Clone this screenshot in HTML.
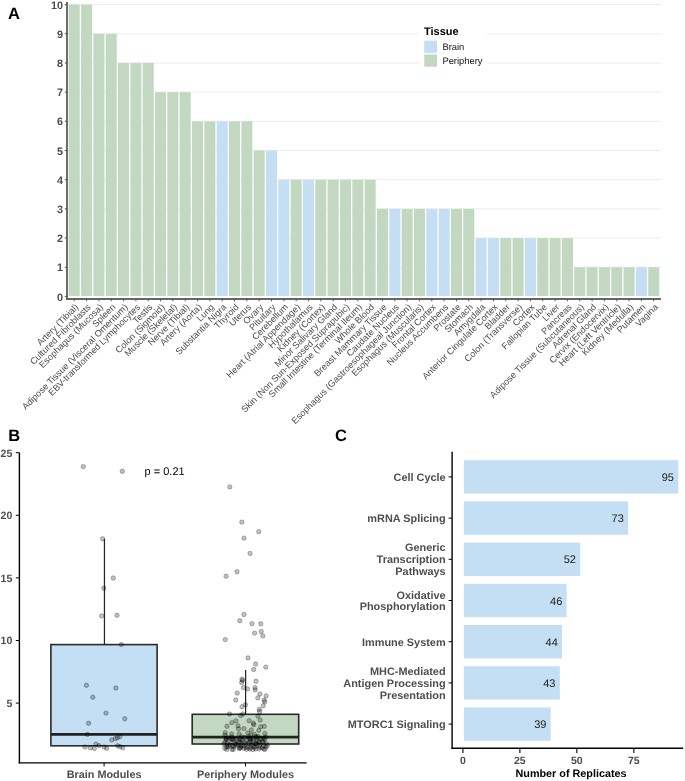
<!DOCTYPE html>
<html><head><meta charset="utf-8"><style>
html,body{margin:0;padding:0;background:#fff;}
body{width:685px;height:781px;overflow:hidden;}
svg{display:block;font-family:"Liberation Sans", sans-serif;will-change:transform;text-rendering:geometricPrecision;}
</style></head><body>
<svg width="685" height="781" viewBox="0 0 685 781">
<rect width="685" height="781" fill="#fff"/>
<line x1="67" x2="661" y1="267.22" y2="267.22" stroke="#ececec" stroke-width="1"/>
<line x1="67" x2="661" y1="238.04" y2="238.04" stroke="#ececec" stroke-width="1"/>
<line x1="67" x2="661" y1="208.86" y2="208.86" stroke="#ececec" stroke-width="1"/>
<line x1="67" x2="661" y1="179.68" y2="179.68" stroke="#ececec" stroke-width="1"/>
<line x1="67" x2="661" y1="150.50" y2="150.50" stroke="#ececec" stroke-width="1"/>
<line x1="67" x2="661" y1="121.32" y2="121.32" stroke="#ececec" stroke-width="1"/>
<line x1="67" x2="661" y1="92.14" y2="92.14" stroke="#ececec" stroke-width="1"/>
<line x1="67" x2="661" y1="62.96" y2="62.96" stroke="#ececec" stroke-width="1"/>
<line x1="67" x2="661" y1="33.78" y2="33.78" stroke="#ececec" stroke-width="1"/>
<line x1="67" x2="661" y1="4.60" y2="4.60" stroke="#ececec" stroke-width="1"/>
<rect x="419" y="22" width="68" height="48" fill="#fff"/>
<rect x="68.70" y="4.60" width="11.05" height="291.40" fill="#c3d8c1"/>
<rect x="81.03" y="4.60" width="11.05" height="291.40" fill="#c3d8c1"/>
<rect x="93.36" y="33.78" width="11.05" height="262.22" fill="#c3d8c1"/>
<rect x="105.69" y="33.78" width="11.05" height="262.22" fill="#c3d8c1"/>
<rect x="118.02" y="62.96" width="11.05" height="233.04" fill="#c3d8c1"/>
<rect x="130.35" y="62.96" width="11.05" height="233.04" fill="#c3d8c1"/>
<rect x="142.68" y="62.96" width="11.05" height="233.04" fill="#c3d8c1"/>
<rect x="155.01" y="92.14" width="11.05" height="203.86" fill="#c3d8c1"/>
<rect x="167.34" y="92.14" width="11.05" height="203.86" fill="#c3d8c1"/>
<rect x="179.67" y="92.14" width="11.05" height="203.86" fill="#c3d8c1"/>
<rect x="192.00" y="121.32" width="11.05" height="174.68" fill="#c3d8c1"/>
<rect x="204.33" y="121.32" width="11.05" height="174.68" fill="#c3d8c1"/>
<rect x="216.66" y="121.32" width="11.05" height="174.68" fill="#c4dff4"/>
<rect x="228.99" y="121.32" width="11.05" height="174.68" fill="#c3d8c1"/>
<rect x="241.32" y="121.32" width="11.05" height="174.68" fill="#c3d8c1"/>
<rect x="253.65" y="150.50" width="11.05" height="145.50" fill="#c3d8c1"/>
<rect x="265.98" y="150.50" width="11.05" height="145.50" fill="#c4dff4"/>
<rect x="278.31" y="179.68" width="11.05" height="116.32" fill="#c4dff4"/>
<rect x="290.64" y="179.68" width="11.05" height="116.32" fill="#c3d8c1"/>
<rect x="302.97" y="179.68" width="11.05" height="116.32" fill="#c4dff4"/>
<rect x="315.30" y="179.68" width="11.05" height="116.32" fill="#c3d8c1"/>
<rect x="327.63" y="179.68" width="11.05" height="116.32" fill="#c3d8c1"/>
<rect x="339.96" y="179.68" width="11.05" height="116.32" fill="#c3d8c1"/>
<rect x="352.29" y="179.68" width="11.05" height="116.32" fill="#c3d8c1"/>
<rect x="364.62" y="179.68" width="11.05" height="116.32" fill="#c3d8c1"/>
<rect x="376.95" y="208.86" width="11.05" height="87.14" fill="#c3d8c1"/>
<rect x="389.28" y="208.86" width="11.05" height="87.14" fill="#c4dff4"/>
<rect x="401.61" y="208.86" width="11.05" height="87.14" fill="#c3d8c1"/>
<rect x="413.94" y="208.86" width="11.05" height="87.14" fill="#c3d8c1"/>
<rect x="426.27" y="208.86" width="11.05" height="87.14" fill="#c4dff4"/>
<rect x="438.60" y="208.86" width="11.05" height="87.14" fill="#c4dff4"/>
<rect x="450.93" y="208.86" width="11.05" height="87.14" fill="#c3d8c1"/>
<rect x="463.26" y="208.86" width="11.05" height="87.14" fill="#c3d8c1"/>
<rect x="475.59" y="238.04" width="11.05" height="57.96" fill="#c4dff4"/>
<rect x="487.92" y="238.04" width="11.05" height="57.96" fill="#c4dff4"/>
<rect x="500.25" y="238.04" width="11.05" height="57.96" fill="#c3d8c1"/>
<rect x="512.58" y="238.04" width="11.05" height="57.96" fill="#c3d8c1"/>
<rect x="524.91" y="238.04" width="11.05" height="57.96" fill="#c4dff4"/>
<rect x="537.24" y="238.04" width="11.05" height="57.96" fill="#c3d8c1"/>
<rect x="549.57" y="238.04" width="11.05" height="57.96" fill="#c3d8c1"/>
<rect x="561.90" y="238.04" width="11.05" height="57.96" fill="#c3d8c1"/>
<rect x="574.23" y="267.22" width="11.05" height="28.78" fill="#c3d8c1"/>
<rect x="586.56" y="267.22" width="11.05" height="28.78" fill="#c3d8c1"/>
<rect x="598.89" y="267.22" width="11.05" height="28.78" fill="#c3d8c1"/>
<rect x="611.22" y="267.22" width="11.05" height="28.78" fill="#c3d8c1"/>
<rect x="623.55" y="267.22" width="11.05" height="28.78" fill="#c3d8c1"/>
<rect x="635.88" y="267.22" width="11.05" height="28.78" fill="#c4dff4"/>
<rect x="648.21" y="267.22" width="11.05" height="28.78" fill="#c3d8c1"/>
<line x1="67" x2="67" y1="2" y2="299.9" stroke="#666" stroke-width="1.9"/>
<line x1="66.05" x2="661" y1="298.95" y2="298.95" stroke="#666" stroke-width="1.9"/>
<line x1="64.8" x2="67" y1="296.40" y2="296.40" stroke="#444" stroke-width="0.9"/>
<text x="63" y="300.55" text-anchor="end" font-size="10.8" font-weight="bold" fill="#4d4d4d">0</text>
<line x1="64.8" x2="67" y1="267.22" y2="267.22" stroke="#444" stroke-width="0.9"/>
<text x="63" y="271.37" text-anchor="end" font-size="10.8" font-weight="bold" fill="#4d4d4d">1</text>
<line x1="64.8" x2="67" y1="238.04" y2="238.04" stroke="#444" stroke-width="0.9"/>
<text x="63" y="242.19" text-anchor="end" font-size="10.8" font-weight="bold" fill="#4d4d4d">2</text>
<line x1="64.8" x2="67" y1="208.86" y2="208.86" stroke="#444" stroke-width="0.9"/>
<text x="63" y="213.01" text-anchor="end" font-size="10.8" font-weight="bold" fill="#4d4d4d">3</text>
<line x1="64.8" x2="67" y1="179.68" y2="179.68" stroke="#444" stroke-width="0.9"/>
<text x="63" y="183.83" text-anchor="end" font-size="10.8" font-weight="bold" fill="#4d4d4d">4</text>
<line x1="64.8" x2="67" y1="150.50" y2="150.50" stroke="#444" stroke-width="0.9"/>
<text x="63" y="154.65" text-anchor="end" font-size="10.8" font-weight="bold" fill="#4d4d4d">5</text>
<line x1="64.8" x2="67" y1="121.32" y2="121.32" stroke="#444" stroke-width="0.9"/>
<text x="63" y="125.47" text-anchor="end" font-size="10.8" font-weight="bold" fill="#4d4d4d">6</text>
<line x1="64.8" x2="67" y1="92.14" y2="92.14" stroke="#444" stroke-width="0.9"/>
<text x="63" y="96.29" text-anchor="end" font-size="10.8" font-weight="bold" fill="#4d4d4d">7</text>
<line x1="64.8" x2="67" y1="62.96" y2="62.96" stroke="#444" stroke-width="0.9"/>
<text x="63" y="67.11" text-anchor="end" font-size="10.8" font-weight="bold" fill="#4d4d4d">8</text>
<line x1="64.8" x2="67" y1="33.78" y2="33.78" stroke="#444" stroke-width="0.9"/>
<text x="63" y="37.93" text-anchor="end" font-size="10.8" font-weight="bold" fill="#4d4d4d">9</text>
<line x1="64.8" x2="67" y1="4.60" y2="4.60" stroke="#444" stroke-width="0.9"/>
<text x="63" y="8.75" text-anchor="end" font-size="10.8" font-weight="bold" fill="#4d4d4d">10</text>
<line x1="74.23" x2="74.23" y1="299.5" y2="301.3" stroke="#444" stroke-width="0.9"/>
<text transform="translate(74.33,303.00) rotate(-45)" x="0" y="0" dy="6.6" text-anchor="end" font-size="9.12" fill="#4d4d4d">Artery (Tibial)</text>
<line x1="86.56" x2="86.56" y1="299.5" y2="301.3" stroke="#444" stroke-width="0.9"/>
<text transform="translate(86.66,303.00) rotate(-45)" x="0" y="0" dy="6.6" text-anchor="end" font-size="9.12" fill="#4d4d4d">Cultured Fibroblasts</text>
<line x1="98.89" x2="98.89" y1="299.5" y2="301.3" stroke="#444" stroke-width="0.9"/>
<text transform="translate(98.98,303.00) rotate(-45)" x="0" y="0" dy="6.6" text-anchor="end" font-size="9.12" fill="#4d4d4d">Esophagus (Mucosa)</text>
<line x1="111.22" x2="111.22" y1="299.5" y2="301.3" stroke="#444" stroke-width="0.9"/>
<text transform="translate(111.31,303.00) rotate(-45)" x="0" y="0" dy="6.6" text-anchor="end" font-size="9.12" fill="#4d4d4d">Spleen</text>
<line x1="123.55" x2="123.55" y1="299.5" y2="301.3" stroke="#444" stroke-width="0.9"/>
<text transform="translate(123.65,303.00) rotate(-45)" x="0" y="0" dy="6.6" text-anchor="end" font-size="9.12" fill="#4d4d4d">Adipose Tissue (Visceral Omentum)</text>
<line x1="135.88" x2="135.88" y1="299.5" y2="301.3" stroke="#444" stroke-width="0.9"/>
<text transform="translate(135.97,303.00) rotate(-45)" x="0" y="0" dy="6.6" text-anchor="end" font-size="9.12" fill="#4d4d4d">EBV-transformed Lymphocytes</text>
<line x1="148.21" x2="148.21" y1="299.5" y2="301.3" stroke="#444" stroke-width="0.9"/>
<text transform="translate(148.31,303.00) rotate(-45)" x="0" y="0" dy="6.6" text-anchor="end" font-size="9.12" fill="#4d4d4d">Testis</text>
<line x1="160.53" x2="160.53" y1="299.5" y2="301.3" stroke="#444" stroke-width="0.9"/>
<text transform="translate(160.63,303.00) rotate(-45)" x="0" y="0" dy="6.6" text-anchor="end" font-size="9.12" fill="#4d4d4d">Colon (Sigmoid)</text>
<line x1="172.87" x2="172.87" y1="299.5" y2="301.3" stroke="#444" stroke-width="0.9"/>
<text transform="translate(172.97,303.00) rotate(-45)" x="0" y="0" dy="6.6" text-anchor="end" font-size="9.12" fill="#4d4d4d">Muscle (Skeletal)</text>
<line x1="185.20" x2="185.20" y1="299.5" y2="301.3" stroke="#444" stroke-width="0.9"/>
<text transform="translate(185.30,303.00) rotate(-45)" x="0" y="0" dy="6.6" text-anchor="end" font-size="9.12" fill="#4d4d4d">Nerve (Tibial)</text>
<line x1="197.53" x2="197.53" y1="299.5" y2="301.3" stroke="#444" stroke-width="0.9"/>
<text transform="translate(197.62,303.00) rotate(-45)" x="0" y="0" dy="6.6" text-anchor="end" font-size="9.12" fill="#4d4d4d">Artery (Aorta)</text>
<line x1="209.85" x2="209.85" y1="299.5" y2="301.3" stroke="#444" stroke-width="0.9"/>
<text transform="translate(209.95,303.00) rotate(-45)" x="0" y="0" dy="6.6" text-anchor="end" font-size="9.12" fill="#4d4d4d">Lung</text>
<line x1="222.19" x2="222.19" y1="299.5" y2="301.3" stroke="#444" stroke-width="0.9"/>
<text transform="translate(222.29,303.00) rotate(-45)" x="0" y="0" dy="6.6" text-anchor="end" font-size="9.12" fill="#4d4d4d">Substantia Nigra</text>
<line x1="234.52" x2="234.52" y1="299.5" y2="301.3" stroke="#444" stroke-width="0.9"/>
<text transform="translate(234.62,303.00) rotate(-45)" x="0" y="0" dy="6.6" text-anchor="end" font-size="9.12" fill="#4d4d4d">Thyroid</text>
<line x1="246.84" x2="246.84" y1="299.5" y2="301.3" stroke="#444" stroke-width="0.9"/>
<text transform="translate(246.94,303.00) rotate(-45)" x="0" y="0" dy="6.6" text-anchor="end" font-size="9.12" fill="#4d4d4d">Uterus</text>
<line x1="259.17" x2="259.17" y1="299.5" y2="301.3" stroke="#444" stroke-width="0.9"/>
<text transform="translate(259.27,303.00) rotate(-45)" x="0" y="0" dy="6.6" text-anchor="end" font-size="9.12" fill="#4d4d4d">Ovary</text>
<line x1="271.50" x2="271.50" y1="299.5" y2="301.3" stroke="#444" stroke-width="0.9"/>
<text transform="translate(271.61,303.00) rotate(-45)" x="0" y="0" dy="6.6" text-anchor="end" font-size="9.12" fill="#4d4d4d">Pituitary</text>
<line x1="283.83" x2="283.83" y1="299.5" y2="301.3" stroke="#444" stroke-width="0.9"/>
<text transform="translate(283.94,303.00) rotate(-45)" x="0" y="0" dy="6.6" text-anchor="end" font-size="9.12" fill="#4d4d4d">Cerebellum</text>
<line x1="296.16" x2="296.16" y1="299.5" y2="301.3" stroke="#444" stroke-width="0.9"/>
<text transform="translate(296.26,303.00) rotate(-45)" x="0" y="0" dy="6.6" text-anchor="end" font-size="9.12" fill="#4d4d4d">Heart (Atrial Appendage)</text>
<line x1="308.50" x2="308.50" y1="299.5" y2="301.3" stroke="#444" stroke-width="0.9"/>
<text transform="translate(308.60,303.00) rotate(-45)" x="0" y="0" dy="6.6" text-anchor="end" font-size="9.12" fill="#4d4d4d">Hypothalamus</text>
<line x1="320.82" x2="320.82" y1="299.5" y2="301.3" stroke="#444" stroke-width="0.9"/>
<text transform="translate(320.93,303.00) rotate(-45)" x="0" y="0" dy="6.6" text-anchor="end" font-size="9.12" fill="#4d4d4d">Kidney (Cortex)</text>
<line x1="333.15" x2="333.15" y1="299.5" y2="301.3" stroke="#444" stroke-width="0.9"/>
<text transform="translate(333.25,303.00) rotate(-45)" x="0" y="0" dy="6.6" text-anchor="end" font-size="9.12" fill="#4d4d4d">Minor Salivary Gland</text>
<line x1="345.48" x2="345.48" y1="299.5" y2="301.3" stroke="#444" stroke-width="0.9"/>
<text transform="translate(345.58,303.00) rotate(-45)" x="0" y="0" dy="6.6" text-anchor="end" font-size="9.12" fill="#4d4d4d">Skin (Non Sun-Exposed Suprapubic)</text>
<line x1="357.81" x2="357.81" y1="299.5" y2="301.3" stroke="#444" stroke-width="0.9"/>
<text transform="translate(357.91,303.00) rotate(-45)" x="0" y="0" dy="6.6" text-anchor="end" font-size="9.12" fill="#4d4d4d">Small Intestine (Terminal Ileum)</text>
<line x1="370.14" x2="370.14" y1="299.5" y2="301.3" stroke="#444" stroke-width="0.9"/>
<text transform="translate(370.25,303.00) rotate(-45)" x="0" y="0" dy="6.6" text-anchor="end" font-size="9.12" fill="#4d4d4d">Whole Blood</text>
<line x1="382.47" x2="382.47" y1="299.5" y2="301.3" stroke="#444" stroke-width="0.9"/>
<text transform="translate(382.57,303.00) rotate(-45)" x="0" y="0" dy="6.6" text-anchor="end" font-size="9.12" fill="#4d4d4d">Breast Mammary Tissue</text>
<line x1="394.80" x2="394.80" y1="299.5" y2="301.3" stroke="#444" stroke-width="0.9"/>
<text transform="translate(394.90,303.00) rotate(-45)" x="0" y="0" dy="6.6" text-anchor="end" font-size="9.12" fill="#4d4d4d">Caudate Nucleus</text>
<line x1="407.13" x2="407.13" y1="299.5" y2="301.3" stroke="#444" stroke-width="0.9"/>
<text transform="translate(407.24,303.00) rotate(-45)" x="0" y="0" dy="6.6" text-anchor="end" font-size="9.12" fill="#4d4d4d">Esophagus (Gastroesophageal Junction)</text>
<line x1="419.46" x2="419.46" y1="299.5" y2="301.3" stroke="#444" stroke-width="0.9"/>
<text transform="translate(419.56,303.00) rotate(-45)" x="0" y="0" dy="6.6" text-anchor="end" font-size="9.12" fill="#4d4d4d">Esophagus (Muscularis)</text>
<line x1="431.79" x2="431.79" y1="299.5" y2="301.3" stroke="#444" stroke-width="0.9"/>
<text transform="translate(431.89,303.00) rotate(-45)" x="0" y="0" dy="6.6" text-anchor="end" font-size="9.12" fill="#4d4d4d">Frontal Cortex</text>
<line x1="444.12" x2="444.12" y1="299.5" y2="301.3" stroke="#444" stroke-width="0.9"/>
<text transform="translate(444.22,303.00) rotate(-45)" x="0" y="0" dy="6.6" text-anchor="end" font-size="9.12" fill="#4d4d4d">Nucleus Accumbens</text>
<line x1="456.45" x2="456.45" y1="299.5" y2="301.3" stroke="#444" stroke-width="0.9"/>
<text transform="translate(456.56,303.00) rotate(-45)" x="0" y="0" dy="6.6" text-anchor="end" font-size="9.12" fill="#4d4d4d">Prostate</text>
<line x1="468.78" x2="468.78" y1="299.5" y2="301.3" stroke="#444" stroke-width="0.9"/>
<text transform="translate(468.88,303.00) rotate(-45)" x="0" y="0" dy="6.6" text-anchor="end" font-size="9.12" fill="#4d4d4d">Stomach</text>
<line x1="481.11" x2="481.11" y1="299.5" y2="301.3" stroke="#444" stroke-width="0.9"/>
<text transform="translate(481.21,303.00) rotate(-45)" x="0" y="0" dy="6.6" text-anchor="end" font-size="9.12" fill="#4d4d4d">Amygdala</text>
<line x1="493.44" x2="493.44" y1="299.5" y2="301.3" stroke="#444" stroke-width="0.9"/>
<text transform="translate(493.55,303.00) rotate(-45)" x="0" y="0" dy="6.6" text-anchor="end" font-size="9.12" fill="#4d4d4d">Anterior Cingulate Cortex</text>
<line x1="505.77" x2="505.77" y1="299.5" y2="301.3" stroke="#444" stroke-width="0.9"/>
<text transform="translate(505.88,303.00) rotate(-45)" x="0" y="0" dy="6.6" text-anchor="end" font-size="9.12" fill="#4d4d4d">Bladder</text>
<line x1="518.11" x2="518.11" y1="299.5" y2="301.3" stroke="#444" stroke-width="0.9"/>
<text transform="translate(518.21,303.00) rotate(-45)" x="0" y="0" dy="6.6" text-anchor="end" font-size="9.12" fill="#4d4d4d">Colon (Transverse)</text>
<line x1="530.43" x2="530.43" y1="299.5" y2="301.3" stroke="#444" stroke-width="0.9"/>
<text transform="translate(530.53,303.00) rotate(-45)" x="0" y="0" dy="6.6" text-anchor="end" font-size="9.12" fill="#4d4d4d">Cortex</text>
<line x1="542.76" x2="542.76" y1="299.5" y2="301.3" stroke="#444" stroke-width="0.9"/>
<text transform="translate(542.87,303.00) rotate(-45)" x="0" y="0" dy="6.6" text-anchor="end" font-size="9.12" fill="#4d4d4d">Fallopian Tube</text>
<line x1="555.10" x2="555.10" y1="299.5" y2="301.3" stroke="#444" stroke-width="0.9"/>
<text transform="translate(555.20,303.00) rotate(-45)" x="0" y="0" dy="6.6" text-anchor="end" font-size="9.12" fill="#4d4d4d">Liver</text>
<line x1="567.42" x2="567.42" y1="299.5" y2="301.3" stroke="#444" stroke-width="0.9"/>
<text transform="translate(567.52,303.00) rotate(-45)" x="0" y="0" dy="6.6" text-anchor="end" font-size="9.12" fill="#4d4d4d">Pancreas</text>
<line x1="579.75" x2="579.75" y1="299.5" y2="301.3" stroke="#444" stroke-width="0.9"/>
<text transform="translate(579.86,303.00) rotate(-45)" x="0" y="0" dy="6.6" text-anchor="end" font-size="9.12" fill="#4d4d4d">Adipose Tissue (Subcutaneous)</text>
<line x1="592.09" x2="592.09" y1="299.5" y2="301.3" stroke="#444" stroke-width="0.9"/>
<text transform="translate(592.19,303.00) rotate(-45)" x="0" y="0" dy="6.6" text-anchor="end" font-size="9.12" fill="#4d4d4d">Adrenal Gland</text>
<line x1="604.42" x2="604.42" y1="299.5" y2="301.3" stroke="#444" stroke-width="0.9"/>
<text transform="translate(604.52,303.00) rotate(-45)" x="0" y="0" dy="6.6" text-anchor="end" font-size="9.12" fill="#4d4d4d">Cervix (Endocervix)</text>
<line x1="616.75" x2="616.75" y1="299.5" y2="301.3" stroke="#444" stroke-width="0.9"/>
<text transform="translate(616.85,303.00) rotate(-45)" x="0" y="0" dy="6.6" text-anchor="end" font-size="9.12" fill="#4d4d4d">Heart (Left Ventricle)</text>
<line x1="629.08" x2="629.08" y1="299.5" y2="301.3" stroke="#444" stroke-width="0.9"/>
<text transform="translate(629.18,303.00) rotate(-45)" x="0" y="0" dy="6.6" text-anchor="end" font-size="9.12" fill="#4d4d4d">Kidney (Medulla)</text>
<line x1="641.40" x2="641.40" y1="299.5" y2="301.3" stroke="#444" stroke-width="0.9"/>
<text transform="translate(641.50,303.00) rotate(-45)" x="0" y="0" dy="6.6" text-anchor="end" font-size="9.12" fill="#4d4d4d">Putamen</text>
<line x1="653.74" x2="653.74" y1="299.5" y2="301.3" stroke="#444" stroke-width="0.9"/>
<text transform="translate(653.84,303.00) rotate(-45)" x="0" y="0" dy="6.6" text-anchor="end" font-size="9.12" fill="#4d4d4d">Vagina</text>
<text x="424" y="34.8" font-size="11" font-weight="bold" fill="#000">Tissue</text>
<rect x="424.2" y="40.7" width="12.9" height="12.2" fill="#c4dff4"/>
<rect x="424.2" y="54.5" width="12.9" height="12.2" fill="#c3d8c1"/>
<text x="442.4" y="50.4" font-size="9.4" fill="#111">Brain</text>
<text x="442.4" y="64.4" font-size="9.4" fill="#111">Periphery</text>
<text x="8" y="18.7" font-size="16.5" font-weight="bold" fill="#000">A</text>
<text x="8.3" y="441" font-size="16.5" font-weight="bold" fill="#000">B</text>
<line x1="104.45" x2="104.45" y1="538.90" y2="644.60" stroke="#262626" stroke-width="1.25"/>
<rect x="50.90" y="644.60" width="106.20" height="101.20" fill="#c4dff4" stroke="#2a2a2a" stroke-width="1.6"/>
<line x1="50.90" x2="157.10" y1="734.40" y2="734.40" stroke="#222" stroke-width="2.7"/>
<line x1="245.60" x2="245.60" y1="670.00" y2="714.30" stroke="#262626" stroke-width="1.25"/>
<rect x="192.20" y="714.30" width="106.50" height="29.70" fill="#c3d8c1" stroke="#2a2a2a" stroke-width="1.6"/>
<line x1="192.20" x2="298.70" y1="737.20" y2="737.20" stroke="#222" stroke-width="2.7"/>
<circle cx="83.3" cy="466.6" r="2.2" fill="rgba(0,0,0,0.24)" stroke="rgba(0,0,0,0.38)" stroke-width="0.7"/>
<circle cx="122.3" cy="471.3" r="2.2" fill="rgba(0,0,0,0.24)" stroke="rgba(0,0,0,0.38)" stroke-width="0.7"/>
<circle cx="102.6" cy="538.8" r="2.2" fill="rgba(0,0,0,0.24)" stroke="rgba(0,0,0,0.38)" stroke-width="0.7"/>
<circle cx="113.3" cy="578.0" r="2.2" fill="rgba(0,0,0,0.24)" stroke="rgba(0,0,0,0.38)" stroke-width="0.7"/>
<circle cx="103.8" cy="588.2" r="2.2" fill="rgba(0,0,0,0.24)" stroke="rgba(0,0,0,0.38)" stroke-width="0.7"/>
<circle cx="101.6" cy="615.9" r="2.2" fill="rgba(0,0,0,0.24)" stroke="rgba(0,0,0,0.38)" stroke-width="0.7"/>
<circle cx="117.0" cy="615.3" r="2.2" fill="rgba(0,0,0,0.24)" stroke="rgba(0,0,0,0.38)" stroke-width="0.7"/>
<circle cx="121.4" cy="644.5" r="2.2" fill="rgba(0,0,0,0.24)" stroke="rgba(0,0,0,0.38)" stroke-width="0.7"/>
<circle cx="86.4" cy="685.3" r="2.2" fill="rgba(0,0,0,0.24)" stroke="rgba(0,0,0,0.38)" stroke-width="0.7"/>
<circle cx="115.9" cy="688.0" r="2.2" fill="rgba(0,0,0,0.24)" stroke="rgba(0,0,0,0.38)" stroke-width="0.7"/>
<circle cx="92.8" cy="697.2" r="2.2" fill="rgba(0,0,0,0.24)" stroke="rgba(0,0,0,0.38)" stroke-width="0.7"/>
<circle cx="106.0" cy="713.1" r="2.2" fill="rgba(0,0,0,0.24)" stroke="rgba(0,0,0,0.38)" stroke-width="0.7"/>
<circle cx="124.8" cy="718.8" r="2.2" fill="rgba(0,0,0,0.24)" stroke="rgba(0,0,0,0.38)" stroke-width="0.7"/>
<circle cx="88.6" cy="723.2" r="2.2" fill="rgba(0,0,0,0.24)" stroke="rgba(0,0,0,0.38)" stroke-width="0.7"/>
<circle cx="87.3" cy="734.4" r="2.2" fill="rgba(0,0,0,0.24)" stroke="rgba(0,0,0,0.38)" stroke-width="0.7"/>
<circle cx="111.7" cy="739.9" r="2.2" fill="rgba(0,0,0,0.24)" stroke="rgba(0,0,0,0.38)" stroke-width="0.7"/>
<circle cx="115.4" cy="738.6" r="2.2" fill="rgba(0,0,0,0.24)" stroke="rgba(0,0,0,0.38)" stroke-width="0.7"/>
<circle cx="117.4" cy="737.6" r="2.2" fill="rgba(0,0,0,0.24)" stroke="rgba(0,0,0,0.38)" stroke-width="0.7"/>
<circle cx="119.9" cy="736.6" r="2.2" fill="rgba(0,0,0,0.24)" stroke="rgba(0,0,0,0.38)" stroke-width="0.7"/>
<circle cx="96.0" cy="744.1" r="2.2" fill="rgba(0,0,0,0.24)" stroke="rgba(0,0,0,0.38)" stroke-width="0.7"/>
<circle cx="99.0" cy="745.6" r="2.2" fill="rgba(0,0,0,0.24)" stroke="rgba(0,0,0,0.38)" stroke-width="0.7"/>
<circle cx="84.9" cy="747.0" r="2.2" fill="rgba(0,0,0,0.24)" stroke="rgba(0,0,0,0.38)" stroke-width="0.7"/>
<circle cx="90.3" cy="747.8" r="2.2" fill="rgba(0,0,0,0.24)" stroke="rgba(0,0,0,0.38)" stroke-width="0.7"/>
<circle cx="94.3" cy="748.5" r="2.2" fill="rgba(0,0,0,0.24)" stroke="rgba(0,0,0,0.38)" stroke-width="0.7"/>
<circle cx="106.7" cy="748.3" r="2.2" fill="rgba(0,0,0,0.24)" stroke="rgba(0,0,0,0.38)" stroke-width="0.7"/>
<circle cx="104.2" cy="747.0" r="2.2" fill="rgba(0,0,0,0.24)" stroke="rgba(0,0,0,0.38)" stroke-width="0.7"/>
<circle cx="117.6" cy="745.8" r="2.2" fill="rgba(0,0,0,0.24)" stroke="rgba(0,0,0,0.38)" stroke-width="0.7"/>
<circle cx="120.1" cy="746.6" r="2.2" fill="rgba(0,0,0,0.24)" stroke="rgba(0,0,0,0.38)" stroke-width="0.7"/>
<circle cx="122.8" cy="747.8" r="2.2" fill="rgba(0,0,0,0.24)" stroke="rgba(0,0,0,0.38)" stroke-width="0.7"/>
<circle cx="229.8" cy="486.9" r="2.2" fill="rgba(0,0,0,0.24)" stroke="rgba(0,0,0,0.38)" stroke-width="0.7"/>
<circle cx="241.8" cy="522.1" r="2.2" fill="rgba(0,0,0,0.24)" stroke="rgba(0,0,0,0.38)" stroke-width="0.7"/>
<circle cx="258.7" cy="531.7" r="2.2" fill="rgba(0,0,0,0.24)" stroke="rgba(0,0,0,0.38)" stroke-width="0.7"/>
<circle cx="244.0" cy="538.1" r="2.2" fill="rgba(0,0,0,0.24)" stroke="rgba(0,0,0,0.38)" stroke-width="0.7"/>
<circle cx="250.1" cy="553.4" r="2.2" fill="rgba(0,0,0,0.24)" stroke="rgba(0,0,0,0.38)" stroke-width="0.7"/>
<circle cx="237.0" cy="571.8" r="2.2" fill="rgba(0,0,0,0.24)" stroke="rgba(0,0,0,0.38)" stroke-width="0.7"/>
<circle cx="226.1" cy="576.2" r="2.2" fill="rgba(0,0,0,0.24)" stroke="rgba(0,0,0,0.38)" stroke-width="0.7"/>
<circle cx="244.0" cy="614.5" r="2.2" fill="rgba(0,0,0,0.24)" stroke="rgba(0,0,0,0.38)" stroke-width="0.7"/>
<circle cx="239.8" cy="620.7" r="2.2" fill="rgba(0,0,0,0.24)" stroke="rgba(0,0,0,0.38)" stroke-width="0.7"/>
<circle cx="251.9" cy="623.6" r="2.2" fill="rgba(0,0,0,0.24)" stroke="rgba(0,0,0,0.38)" stroke-width="0.7"/>
<circle cx="260.8" cy="623.8" r="2.2" fill="rgba(0,0,0,0.24)" stroke="rgba(0,0,0,0.38)" stroke-width="0.7"/>
<circle cx="254.6" cy="633.1" r="2.2" fill="rgba(0,0,0,0.24)" stroke="rgba(0,0,0,0.38)" stroke-width="0.7"/>
<circle cx="261.2" cy="631.5" r="2.2" fill="rgba(0,0,0,0.24)" stroke="rgba(0,0,0,0.38)" stroke-width="0.7"/>
<circle cx="262.8" cy="635.9" r="2.2" fill="rgba(0,0,0,0.24)" stroke="rgba(0,0,0,0.38)" stroke-width="0.7"/>
<circle cx="225.3" cy="639.6" r="2.2" fill="rgba(0,0,0,0.24)" stroke="rgba(0,0,0,0.38)" stroke-width="0.7"/>
<circle cx="248.0" cy="657.9" r="2.2" fill="rgba(0,0,0,0.24)" stroke="rgba(0,0,0,0.38)" stroke-width="0.7"/>
<circle cx="255.6" cy="664.0" r="2.2" fill="rgba(0,0,0,0.24)" stroke="rgba(0,0,0,0.38)" stroke-width="0.7"/>
<circle cx="265.8" cy="667.1" r="2.2" fill="rgba(0,0,0,0.24)" stroke="rgba(0,0,0,0.38)" stroke-width="0.7"/>
<circle cx="253.7" cy="669.5" r="2.2" fill="rgba(0,0,0,0.24)" stroke="rgba(0,0,0,0.38)" stroke-width="0.7"/>
<circle cx="242.0" cy="679.2" r="2.2" fill="rgba(0,0,0,0.24)" stroke="rgba(0,0,0,0.38)" stroke-width="0.7"/>
<circle cx="242.5" cy="680.4" r="2.2" fill="rgba(0,0,0,0.24)" stroke="rgba(0,0,0,0.38)" stroke-width="0.7"/>
<circle cx="241.7" cy="682.5" r="2.2" fill="rgba(0,0,0,0.24)" stroke="rgba(0,0,0,0.38)" stroke-width="0.7"/>
<circle cx="256.0" cy="681.2" r="2.2" fill="rgba(0,0,0,0.24)" stroke="rgba(0,0,0,0.38)" stroke-width="0.7"/>
<circle cx="243.5" cy="687.6" r="2.2" fill="rgba(0,0,0,0.24)" stroke="rgba(0,0,0,0.38)" stroke-width="0.7"/>
<circle cx="247.5" cy="688.9" r="2.2" fill="rgba(0,0,0,0.24)" stroke="rgba(0,0,0,0.38)" stroke-width="0.7"/>
<circle cx="255.0" cy="687.6" r="2.2" fill="rgba(0,0,0,0.24)" stroke="rgba(0,0,0,0.38)" stroke-width="0.7"/>
<circle cx="255.2" cy="689.9" r="2.2" fill="rgba(0,0,0,0.24)" stroke="rgba(0,0,0,0.38)" stroke-width="0.7"/>
<circle cx="237.2" cy="693.1" r="2.2" fill="rgba(0,0,0,0.24)" stroke="rgba(0,0,0,0.38)" stroke-width="0.7"/>
<circle cx="235.7" cy="699.9" r="2.2" fill="rgba(0,0,0,0.24)" stroke="rgba(0,0,0,0.38)" stroke-width="0.7"/>
<circle cx="260.0" cy="693.9" r="2.2" fill="rgba(0,0,0,0.24)" stroke="rgba(0,0,0,0.38)" stroke-width="0.7"/>
<circle cx="266.1" cy="695.9" r="2.2" fill="rgba(0,0,0,0.24)" stroke="rgba(0,0,0,0.38)" stroke-width="0.7"/>
<circle cx="257.8" cy="697.9" r="2.2" fill="rgba(0,0,0,0.24)" stroke="rgba(0,0,0,0.38)" stroke-width="0.7"/>
<circle cx="264.1" cy="700.2" r="2.2" fill="rgba(0,0,0,0.24)" stroke="rgba(0,0,0,0.38)" stroke-width="0.7"/>
<circle cx="264.8" cy="701.8" r="2.2" fill="rgba(0,0,0,0.24)" stroke="rgba(0,0,0,0.38)" stroke-width="0.7"/>
<circle cx="245.4" cy="704.8" r="2.2" fill="rgba(0,0,0,0.24)" stroke="rgba(0,0,0,0.38)" stroke-width="0.7"/>
<circle cx="242.0" cy="706.7" r="2.2" fill="rgba(0,0,0,0.24)" stroke="rgba(0,0,0,0.38)" stroke-width="0.7"/>
<circle cx="263.2" cy="705.8" r="2.2" fill="rgba(0,0,0,0.24)" stroke="rgba(0,0,0,0.38)" stroke-width="0.7"/>
<circle cx="259.2" cy="709.4" r="2.2" fill="rgba(0,0,0,0.24)" stroke="rgba(0,0,0,0.38)" stroke-width="0.7"/>
<circle cx="259.7" cy="711.5" r="2.2" fill="rgba(0,0,0,0.24)" stroke="rgba(0,0,0,0.38)" stroke-width="0.7"/>
<circle cx="229.5" cy="714.0" r="2.2" fill="rgba(0,0,0,0.24)" stroke="rgba(0,0,0,0.38)" stroke-width="0.7"/>
<circle cx="240.8" cy="715.5" r="2.2" fill="rgba(0,0,0,0.24)" stroke="rgba(0,0,0,0.38)" stroke-width="0.7"/>
<circle cx="242.8" cy="714.0" r="2.2" fill="rgba(0,0,0,0.24)" stroke="rgba(0,0,0,0.38)" stroke-width="0.7"/>
<circle cx="257.9" cy="716.1" r="2.2" fill="rgba(0,0,0,0.24)" stroke="rgba(0,0,0,0.38)" stroke-width="0.7"/>
<circle cx="260.2" cy="720.1" r="2.2" fill="rgba(0,0,0,0.24)" stroke="rgba(0,0,0,0.38)" stroke-width="0.7"/>
<circle cx="249.1" cy="720.7" r="2.2" fill="rgba(0,0,0,0.24)" stroke="rgba(0,0,0,0.38)" stroke-width="0.7"/>
<circle cx="236.0" cy="720.9" r="2.2" fill="rgba(0,0,0,0.24)" stroke="rgba(0,0,0,0.38)" stroke-width="0.7"/>
<circle cx="231.8" cy="722.7" r="2.2" fill="rgba(0,0,0,0.24)" stroke="rgba(0,0,0,0.38)" stroke-width="0.7"/>
<circle cx="227.0" cy="726.3" r="2.2" fill="rgba(0,0,0,0.24)" stroke="rgba(0,0,0,0.38)" stroke-width="0.7"/>
<circle cx="238.0" cy="725.8" r="2.2" fill="rgba(0,0,0,0.24)" stroke="rgba(0,0,0,0.38)" stroke-width="0.7"/>
<circle cx="253.3" cy="723.2" r="2.2" fill="rgba(0,0,0,0.24)" stroke="rgba(0,0,0,0.38)" stroke-width="0.7"/>
<circle cx="253.8" cy="724.7" r="2.2" fill="rgba(0,0,0,0.24)" stroke="rgba(0,0,0,0.38)" stroke-width="0.7"/>
<circle cx="264.3" cy="726.3" r="2.2" fill="rgba(0,0,0,0.24)" stroke="rgba(0,0,0,0.38)" stroke-width="0.7"/>
<circle cx="260.7" cy="726.8" r="2.2" fill="rgba(0,0,0,0.24)" stroke="rgba(0,0,0,0.38)" stroke-width="0.7"/>
<circle cx="238.5" cy="728.8" r="2.2" fill="rgba(0,0,0,0.24)" stroke="rgba(0,0,0,0.38)" stroke-width="0.7"/>
<circle cx="243.9" cy="728.6" r="2.2" fill="rgba(0,0,0,0.24)" stroke="rgba(0,0,0,0.38)" stroke-width="0.7"/>
<circle cx="251.3" cy="730.0" r="2.2" fill="rgba(0,0,0,0.24)" stroke="rgba(0,0,0,0.38)" stroke-width="0.7"/>
<circle cx="258.8" cy="730.4" r="2.2" fill="rgba(0,0,0,0.24)" stroke="rgba(0,0,0,0.38)" stroke-width="0.7"/>
<circle cx="231.6" cy="733.9" r="2.2" fill="rgba(0,0,0,0.24)" stroke="rgba(0,0,0,0.38)" stroke-width="0.7"/>
<circle cx="239.1" cy="733.9" r="2.2" fill="rgba(0,0,0,0.24)" stroke="rgba(0,0,0,0.38)" stroke-width="0.7"/>
<circle cx="247.8" cy="733.0" r="2.2" fill="rgba(0,0,0,0.24)" stroke="rgba(0,0,0,0.38)" stroke-width="0.7"/>
<circle cx="254.4" cy="734.3" r="2.2" fill="rgba(0,0,0,0.24)" stroke="rgba(0,0,0,0.38)" stroke-width="0.7"/>
<circle cx="264.9" cy="733.5" r="2.2" fill="rgba(0,0,0,0.24)" stroke="rgba(0,0,0,0.38)" stroke-width="0.7"/>
<circle cx="225.1" cy="735.2" r="2.2" fill="rgba(0,0,0,0.24)" stroke="rgba(0,0,0,0.38)" stroke-width="0.7"/>
<circle cx="250.8" cy="734.9" r="2.2" fill="rgba(0,0,0,0.24)" stroke="rgba(0,0,0,0.38)" stroke-width="0.7"/>
<circle cx="258.2" cy="736.5" r="2.2" fill="rgba(0,0,0,0.24)" stroke="rgba(0,0,0,0.38)" stroke-width="0.7"/>
<circle cx="255.8" cy="736.4" r="2.2" fill="rgba(0,0,0,0.24)" stroke="rgba(0,0,0,0.38)" stroke-width="0.7"/>
<circle cx="225.2" cy="732.7" r="2.2" fill="rgba(0,0,0,0.24)" stroke="rgba(0,0,0,0.38)" stroke-width="0.7"/>
<circle cx="226.3" cy="738.1" r="2.2" fill="rgba(0,0,0,0.24)" stroke="rgba(0,0,0,0.38)" stroke-width="0.7"/>
<circle cx="226.1" cy="739.3" r="2.2" fill="rgba(0,0,0,0.24)" stroke="rgba(0,0,0,0.38)" stroke-width="0.7"/>
<circle cx="224.9" cy="742.1" r="2.2" fill="rgba(0,0,0,0.24)" stroke="rgba(0,0,0,0.38)" stroke-width="0.7"/>
<circle cx="228.0" cy="737.9" r="2.2" fill="rgba(0,0,0,0.24)" stroke="rgba(0,0,0,0.38)" stroke-width="0.7"/>
<circle cx="226.5" cy="739.5" r="2.2" fill="rgba(0,0,0,0.24)" stroke="rgba(0,0,0,0.38)" stroke-width="0.7"/>
<circle cx="227.3" cy="743.8" r="2.2" fill="rgba(0,0,0,0.24)" stroke="rgba(0,0,0,0.38)" stroke-width="0.7"/>
<circle cx="231.6" cy="736.9" r="2.2" fill="rgba(0,0,0,0.24)" stroke="rgba(0,0,0,0.38)" stroke-width="0.7"/>
<circle cx="231.7" cy="739.3" r="2.2" fill="rgba(0,0,0,0.24)" stroke="rgba(0,0,0,0.38)" stroke-width="0.7"/>
<circle cx="231.2" cy="741.8" r="2.2" fill="rgba(0,0,0,0.24)" stroke="rgba(0,0,0,0.38)" stroke-width="0.7"/>
<circle cx="232.3" cy="738.7" r="2.2" fill="rgba(0,0,0,0.24)" stroke="rgba(0,0,0,0.38)" stroke-width="0.7"/>
<circle cx="232.9" cy="739.5" r="2.2" fill="rgba(0,0,0,0.24)" stroke="rgba(0,0,0,0.38)" stroke-width="0.7"/>
<circle cx="235.2" cy="743.7" r="2.2" fill="rgba(0,0,0,0.24)" stroke="rgba(0,0,0,0.38)" stroke-width="0.7"/>
<circle cx="236.1" cy="738.9" r="2.2" fill="rgba(0,0,0,0.24)" stroke="rgba(0,0,0,0.38)" stroke-width="0.7"/>
<circle cx="236.8" cy="740.7" r="2.2" fill="rgba(0,0,0,0.24)" stroke="rgba(0,0,0,0.38)" stroke-width="0.7"/>
<circle cx="235.8" cy="743.9" r="2.2" fill="rgba(0,0,0,0.24)" stroke="rgba(0,0,0,0.38)" stroke-width="0.7"/>
<circle cx="240.2" cy="738.9" r="2.2" fill="rgba(0,0,0,0.24)" stroke="rgba(0,0,0,0.38)" stroke-width="0.7"/>
<circle cx="240.8" cy="739.7" r="2.2" fill="rgba(0,0,0,0.24)" stroke="rgba(0,0,0,0.38)" stroke-width="0.7"/>
<circle cx="239.2" cy="741.9" r="2.2" fill="rgba(0,0,0,0.24)" stroke="rgba(0,0,0,0.38)" stroke-width="0.7"/>
<circle cx="241.5" cy="736.7" r="2.2" fill="rgba(0,0,0,0.24)" stroke="rgba(0,0,0,0.38)" stroke-width="0.7"/>
<circle cx="242.0" cy="740.5" r="2.2" fill="rgba(0,0,0,0.24)" stroke="rgba(0,0,0,0.38)" stroke-width="0.7"/>
<circle cx="241.1" cy="743.2" r="2.2" fill="rgba(0,0,0,0.24)" stroke="rgba(0,0,0,0.38)" stroke-width="0.7"/>
<circle cx="245.0" cy="737.3" r="2.2" fill="rgba(0,0,0,0.24)" stroke="rgba(0,0,0,0.38)" stroke-width="0.7"/>
<circle cx="246.4" cy="740.2" r="2.2" fill="rgba(0,0,0,0.24)" stroke="rgba(0,0,0,0.38)" stroke-width="0.7"/>
<circle cx="245.0" cy="742.7" r="2.2" fill="rgba(0,0,0,0.24)" stroke="rgba(0,0,0,0.38)" stroke-width="0.7"/>
<circle cx="249.0" cy="736.6" r="2.2" fill="rgba(0,0,0,0.24)" stroke="rgba(0,0,0,0.38)" stroke-width="0.7"/>
<circle cx="249.8" cy="739.1" r="2.2" fill="rgba(0,0,0,0.24)" stroke="rgba(0,0,0,0.38)" stroke-width="0.7"/>
<circle cx="249.2" cy="743.6" r="2.2" fill="rgba(0,0,0,0.24)" stroke="rgba(0,0,0,0.38)" stroke-width="0.7"/>
<circle cx="250.0" cy="738.5" r="2.2" fill="rgba(0,0,0,0.24)" stroke="rgba(0,0,0,0.38)" stroke-width="0.7"/>
<circle cx="251.0" cy="740.4" r="2.2" fill="rgba(0,0,0,0.24)" stroke="rgba(0,0,0,0.38)" stroke-width="0.7"/>
<circle cx="249.9" cy="741.6" r="2.2" fill="rgba(0,0,0,0.24)" stroke="rgba(0,0,0,0.38)" stroke-width="0.7"/>
<circle cx="253.4" cy="738.9" r="2.2" fill="rgba(0,0,0,0.24)" stroke="rgba(0,0,0,0.38)" stroke-width="0.7"/>
<circle cx="253.4" cy="740.9" r="2.2" fill="rgba(0,0,0,0.24)" stroke="rgba(0,0,0,0.38)" stroke-width="0.7"/>
<circle cx="255.6" cy="743.9" r="2.2" fill="rgba(0,0,0,0.24)" stroke="rgba(0,0,0,0.38)" stroke-width="0.7"/>
<circle cx="256.8" cy="737.4" r="2.2" fill="rgba(0,0,0,0.24)" stroke="rgba(0,0,0,0.38)" stroke-width="0.7"/>
<circle cx="257.3" cy="740.9" r="2.2" fill="rgba(0,0,0,0.24)" stroke="rgba(0,0,0,0.38)" stroke-width="0.7"/>
<circle cx="256.1" cy="743.4" r="2.2" fill="rgba(0,0,0,0.24)" stroke="rgba(0,0,0,0.38)" stroke-width="0.7"/>
<circle cx="261.0" cy="738.6" r="2.2" fill="rgba(0,0,0,0.24)" stroke="rgba(0,0,0,0.38)" stroke-width="0.7"/>
<circle cx="258.8" cy="741.4" r="2.2" fill="rgba(0,0,0,0.24)" stroke="rgba(0,0,0,0.38)" stroke-width="0.7"/>
<circle cx="259.0" cy="742.4" r="2.2" fill="rgba(0,0,0,0.24)" stroke="rgba(0,0,0,0.38)" stroke-width="0.7"/>
<circle cx="263.4" cy="738.8" r="2.2" fill="rgba(0,0,0,0.24)" stroke="rgba(0,0,0,0.38)" stroke-width="0.7"/>
<circle cx="262.6" cy="741.3" r="2.2" fill="rgba(0,0,0,0.24)" stroke="rgba(0,0,0,0.38)" stroke-width="0.7"/>
<circle cx="263.2" cy="742.3" r="2.2" fill="rgba(0,0,0,0.24)" stroke="rgba(0,0,0,0.38)" stroke-width="0.7"/>
<circle cx="265.5" cy="736.9" r="2.2" fill="rgba(0,0,0,0.24)" stroke="rgba(0,0,0,0.38)" stroke-width="0.7"/>
<circle cx="264.8" cy="739.4" r="2.2" fill="rgba(0,0,0,0.24)" stroke="rgba(0,0,0,0.38)" stroke-width="0.7"/>
<circle cx="266.6" cy="744.0" r="2.2" fill="rgba(0,0,0,0.24)" stroke="rgba(0,0,0,0.38)" stroke-width="0.7"/>
<circle cx="224.0" cy="744.1" r="2.2" fill="rgba(0,0,0,0.24)" stroke="rgba(0,0,0,0.38)" stroke-width="0.7"/>
<circle cx="226.6" cy="746.9" r="2.2" fill="rgba(0,0,0,0.24)" stroke="rgba(0,0,0,0.38)" stroke-width="0.7"/>
<circle cx="224.8" cy="748.2" r="2.2" fill="rgba(0,0,0,0.24)" stroke="rgba(0,0,0,0.38)" stroke-width="0.7"/>
<circle cx="228.5" cy="745.5" r="2.2" fill="rgba(0,0,0,0.24)" stroke="rgba(0,0,0,0.38)" stroke-width="0.7"/>
<circle cx="228.1" cy="746.7" r="2.2" fill="rgba(0,0,0,0.24)" stroke="rgba(0,0,0,0.38)" stroke-width="0.7"/>
<circle cx="226.8" cy="749.4" r="2.2" fill="rgba(0,0,0,0.24)" stroke="rgba(0,0,0,0.38)" stroke-width="0.7"/>
<circle cx="229.9" cy="744.9" r="2.2" fill="rgba(0,0,0,0.24)" stroke="rgba(0,0,0,0.38)" stroke-width="0.7"/>
<circle cx="232.4" cy="746.1" r="2.2" fill="rgba(0,0,0,0.24)" stroke="rgba(0,0,0,0.38)" stroke-width="0.7"/>
<circle cx="232.1" cy="749.5" r="2.2" fill="rgba(0,0,0,0.24)" stroke="rgba(0,0,0,0.38)" stroke-width="0.7"/>
<circle cx="234.9" cy="745.5" r="2.2" fill="rgba(0,0,0,0.24)" stroke="rgba(0,0,0,0.38)" stroke-width="0.7"/>
<circle cx="233.3" cy="746.7" r="2.2" fill="rgba(0,0,0,0.24)" stroke="rgba(0,0,0,0.38)" stroke-width="0.7"/>
<circle cx="233.4" cy="749.3" r="2.2" fill="rgba(0,0,0,0.24)" stroke="rgba(0,0,0,0.38)" stroke-width="0.7"/>
<circle cx="237.0" cy="744.8" r="2.2" fill="rgba(0,0,0,0.24)" stroke="rgba(0,0,0,0.38)" stroke-width="0.7"/>
<circle cx="239.2" cy="747.5" r="2.2" fill="rgba(0,0,0,0.24)" stroke="rgba(0,0,0,0.38)" stroke-width="0.7"/>
<circle cx="239.1" cy="748.6" r="2.2" fill="rgba(0,0,0,0.24)" stroke="rgba(0,0,0,0.38)" stroke-width="0.7"/>
<circle cx="240.7" cy="745.4" r="2.2" fill="rgba(0,0,0,0.24)" stroke="rgba(0,0,0,0.38)" stroke-width="0.7"/>
<circle cx="240.7" cy="746.4" r="2.2" fill="rgba(0,0,0,0.24)" stroke="rgba(0,0,0,0.38)" stroke-width="0.7"/>
<circle cx="240.5" cy="748.0" r="2.2" fill="rgba(0,0,0,0.24)" stroke="rgba(0,0,0,0.38)" stroke-width="0.7"/>
<circle cx="243.5" cy="745.8" r="2.2" fill="rgba(0,0,0,0.24)" stroke="rgba(0,0,0,0.38)" stroke-width="0.7"/>
<circle cx="245.4" cy="747.0" r="2.2" fill="rgba(0,0,0,0.24)" stroke="rgba(0,0,0,0.38)" stroke-width="0.7"/>
<circle cx="243.9" cy="748.4" r="2.2" fill="rgba(0,0,0,0.24)" stroke="rgba(0,0,0,0.38)" stroke-width="0.7"/>
<circle cx="245.8" cy="744.5" r="2.2" fill="rgba(0,0,0,0.24)" stroke="rgba(0,0,0,0.38)" stroke-width="0.7"/>
<circle cx="248.0" cy="747.5" r="2.2" fill="rgba(0,0,0,0.24)" stroke="rgba(0,0,0,0.38)" stroke-width="0.7"/>
<circle cx="246.6" cy="749.2" r="2.2" fill="rgba(0,0,0,0.24)" stroke="rgba(0,0,0,0.38)" stroke-width="0.7"/>
<circle cx="251.1" cy="745.3" r="2.2" fill="rgba(0,0,0,0.24)" stroke="rgba(0,0,0,0.38)" stroke-width="0.7"/>
<circle cx="250.7" cy="747.3" r="2.2" fill="rgba(0,0,0,0.24)" stroke="rgba(0,0,0,0.38)" stroke-width="0.7"/>
<circle cx="249.8" cy="749.0" r="2.2" fill="rgba(0,0,0,0.24)" stroke="rgba(0,0,0,0.38)" stroke-width="0.7"/>
<circle cx="252.7" cy="744.9" r="2.2" fill="rgba(0,0,0,0.24)" stroke="rgba(0,0,0,0.38)" stroke-width="0.7"/>
<circle cx="254.2" cy="747.2" r="2.2" fill="rgba(0,0,0,0.24)" stroke="rgba(0,0,0,0.38)" stroke-width="0.7"/>
<circle cx="252.7" cy="749.5" r="2.2" fill="rgba(0,0,0,0.24)" stroke="rgba(0,0,0,0.38)" stroke-width="0.7"/>
<circle cx="257.0" cy="745.1" r="2.2" fill="rgba(0,0,0,0.24)" stroke="rgba(0,0,0,0.38)" stroke-width="0.7"/>
<circle cx="255.0" cy="746.9" r="2.2" fill="rgba(0,0,0,0.24)" stroke="rgba(0,0,0,0.38)" stroke-width="0.7"/>
<circle cx="255.7" cy="749.0" r="2.2" fill="rgba(0,0,0,0.24)" stroke="rgba(0,0,0,0.38)" stroke-width="0.7"/>
<circle cx="259.5" cy="745.5" r="2.2" fill="rgba(0,0,0,0.24)" stroke="rgba(0,0,0,0.38)" stroke-width="0.7"/>
<circle cx="260.1" cy="747.4" r="2.2" fill="rgba(0,0,0,0.24)" stroke="rgba(0,0,0,0.38)" stroke-width="0.7"/>
<circle cx="259.2" cy="748.9" r="2.2" fill="rgba(0,0,0,0.24)" stroke="rgba(0,0,0,0.38)" stroke-width="0.7"/>
<circle cx="263.5" cy="745.5" r="2.2" fill="rgba(0,0,0,0.24)" stroke="rgba(0,0,0,0.38)" stroke-width="0.7"/>
<circle cx="262.3" cy="747.4" r="2.2" fill="rgba(0,0,0,0.24)" stroke="rgba(0,0,0,0.38)" stroke-width="0.7"/>
<circle cx="263.9" cy="749.0" r="2.2" fill="rgba(0,0,0,0.24)" stroke="rgba(0,0,0,0.38)" stroke-width="0.7"/>
<circle cx="267.4" cy="745.8" r="2.2" fill="rgba(0,0,0,0.24)" stroke="rgba(0,0,0,0.38)" stroke-width="0.7"/>
<circle cx="266.0" cy="746.9" r="2.2" fill="rgba(0,0,0,0.24)" stroke="rgba(0,0,0,0.38)" stroke-width="0.7"/>
<circle cx="264.9" cy="749.3" r="2.2" fill="rgba(0,0,0,0.24)" stroke="rgba(0,0,0,0.38)" stroke-width="0.7"/>
<line x1="19.4" x2="19.4" y1="452.4" y2="763.5" stroke="#000" stroke-width="1.4"/>
<line x1="18.7" x2="306.6" y1="762.9" y2="762.9" stroke="#000" stroke-width="1.4"/>
<line x1="15.8" x2="19.4" y1="703.10" y2="703.10" stroke="#000" stroke-width="1"/>
<text x="12.4" y="707.00" text-anchor="end" font-size="10.6" font-weight="bold" fill="#4d4d4d">5</text>
<line x1="15.8" x2="19.4" y1="640.50" y2="640.50" stroke="#000" stroke-width="1"/>
<text x="12.4" y="644.40" text-anchor="end" font-size="10.6" font-weight="bold" fill="#4d4d4d">10</text>
<line x1="15.8" x2="19.4" y1="577.90" y2="577.90" stroke="#000" stroke-width="1"/>
<text x="12.4" y="581.80" text-anchor="end" font-size="10.6" font-weight="bold" fill="#4d4d4d">15</text>
<line x1="15.8" x2="19.4" y1="515.30" y2="515.30" stroke="#000" stroke-width="1"/>
<text x="12.4" y="519.20" text-anchor="end" font-size="10.6" font-weight="bold" fill="#4d4d4d">20</text>
<line x1="15.8" x2="19.4" y1="452.70" y2="452.70" stroke="#000" stroke-width="1"/>
<text x="12.4" y="456.60" text-anchor="end" font-size="10.6" font-weight="bold" fill="#4d4d4d">25</text>
<line x1="104.1" x2="104.1" y1="763" y2="766.4" stroke="#000" stroke-width="1"/>
<text x="104.1" y="778" text-anchor="middle" font-size="10.85" font-weight="bold" fill="#4d4d4d">Brain Modules</text>
<line x1="245.5" x2="245.5" y1="763" y2="766.4" stroke="#000" stroke-width="1"/>
<text x="245.5" y="778" text-anchor="middle" font-size="10.85" font-weight="bold" fill="#4d4d4d">Periphery Modules</text>
<text x="144.6" y="475.2" font-size="11" fill="#000">p = 0.21</text>
<text x="334.9" y="440.8" font-size="16.5" font-weight="bold" fill="#000">C</text>
<rect x="463.90" y="460.20" width="214.41" height="33.4" fill="#c4dff4"/>
<text x="674.00" y="481.00" text-anchor="end" font-size="11" fill="#1a1a1a">95</text>
<line x1="448.6" x2="452" y1="476.90" y2="476.90" stroke="#000" stroke-width="1"/>
<text x="445.6" y="480.90" text-anchor="end" font-size="10.9" font-weight="bold" fill="#4d4d4d">Cell Cycle</text>
<rect x="463.90" y="501.40" width="164.27" height="33.4" fill="#c4dff4"/>
<text x="623.87" y="522.20" text-anchor="end" font-size="11" fill="#1a1a1a">73</text>
<line x1="448.6" x2="452" y1="518.10" y2="518.10" stroke="#000" stroke-width="1"/>
<text x="445.6" y="522.10" text-anchor="end" font-size="10.9" font-weight="bold" fill="#4d4d4d">mRNA Splicing</text>
<rect x="463.90" y="542.60" width="116.41" height="33.4" fill="#c4dff4"/>
<text x="576.01" y="563.40" text-anchor="end" font-size="11" fill="#1a1a1a">52</text>
<line x1="448.6" x2="452" y1="559.30" y2="559.30" stroke="#000" stroke-width="1"/>
<text x="445.6" y="551.40" text-anchor="end" font-size="10.9" font-weight="bold" fill="#4d4d4d">Generic</text>
<text x="445.6" y="563.30" text-anchor="end" font-size="10.9" font-weight="bold" fill="#4d4d4d">Transcription</text>
<text x="445.6" y="575.20" text-anchor="end" font-size="10.9" font-weight="bold" fill="#4d4d4d">Pathways</text>
<rect x="463.90" y="583.80" width="102.73" height="33.4" fill="#c4dff4"/>
<text x="562.33" y="604.60" text-anchor="end" font-size="11" fill="#1a1a1a">46</text>
<line x1="448.6" x2="452" y1="600.50" y2="600.50" stroke="#000" stroke-width="1"/>
<text x="445.6" y="598.55" text-anchor="end" font-size="10.9" font-weight="bold" fill="#4d4d4d">Oxidative</text>
<text x="445.6" y="610.45" text-anchor="end" font-size="10.9" font-weight="bold" fill="#4d4d4d">Phosphorylation</text>
<rect x="463.90" y="625.00" width="98.18" height="33.4" fill="#c4dff4"/>
<text x="557.78" y="645.80" text-anchor="end" font-size="11" fill="#1a1a1a">44</text>
<line x1="448.6" x2="452" y1="641.70" y2="641.70" stroke="#000" stroke-width="1"/>
<text x="445.6" y="645.70" text-anchor="end" font-size="10.9" font-weight="bold" fill="#4d4d4d">Immune System</text>
<rect x="463.90" y="666.20" width="95.90" height="33.4" fill="#c4dff4"/>
<text x="555.50" y="687.00" text-anchor="end" font-size="11" fill="#1a1a1a">43</text>
<line x1="448.6" x2="452" y1="682.90" y2="682.90" stroke="#000" stroke-width="1"/>
<text x="445.6" y="675.00" text-anchor="end" font-size="10.9" font-weight="bold" fill="#4d4d4d">MHC-Mediated</text>
<text x="445.6" y="686.90" text-anchor="end" font-size="10.9" font-weight="bold" fill="#4d4d4d">Antigen Processing</text>
<text x="445.6" y="698.80" text-anchor="end" font-size="10.9" font-weight="bold" fill="#4d4d4d">Presentation</text>
<rect x="463.90" y="707.40" width="86.78" height="33.4" fill="#c4dff4"/>
<text x="546.38" y="728.20" text-anchor="end" font-size="11" fill="#1a1a1a">39</text>
<line x1="448.6" x2="452" y1="724.10" y2="724.10" stroke="#000" stroke-width="1"/>
<text x="445.6" y="728.10" text-anchor="end" font-size="10.9" font-weight="bold" fill="#4d4d4d">MTORC1 Signaling</text>
<line x1="452.1" x2="452.1" y1="451.7" y2="748.9" stroke="#000" stroke-width="1.4"/>
<line x1="451.4" x2="683.2" y1="748.2" y2="748.2" stroke="#000" stroke-width="1.4"/>
<line x1="462.90" x2="462.90" y1="748.9" y2="753" stroke="#000" stroke-width="1.1"/>
<text x="462.90" y="763.9" text-anchor="middle" font-size="10.5" font-weight="bold" fill="#4d4d4d">0</text>
<line x1="519.88" x2="519.88" y1="748.9" y2="753" stroke="#000" stroke-width="1.1"/>
<text x="519.88" y="763.9" text-anchor="middle" font-size="10.5" font-weight="bold" fill="#4d4d4d">25</text>
<line x1="576.85" x2="576.85" y1="748.9" y2="753" stroke="#000" stroke-width="1.1"/>
<text x="576.85" y="763.9" text-anchor="middle" font-size="10.5" font-weight="bold" fill="#4d4d4d">50</text>
<line x1="633.82" x2="633.82" y1="748.9" y2="753" stroke="#000" stroke-width="1.1"/>
<text x="633.82" y="763.9" text-anchor="middle" font-size="10.5" font-weight="bold" fill="#4d4d4d">75</text>
<text x="571" y="777.3" text-anchor="middle" font-size="10.8" font-weight="bold" fill="#000">Number of Replicates</text>
</svg>
</body></html>
